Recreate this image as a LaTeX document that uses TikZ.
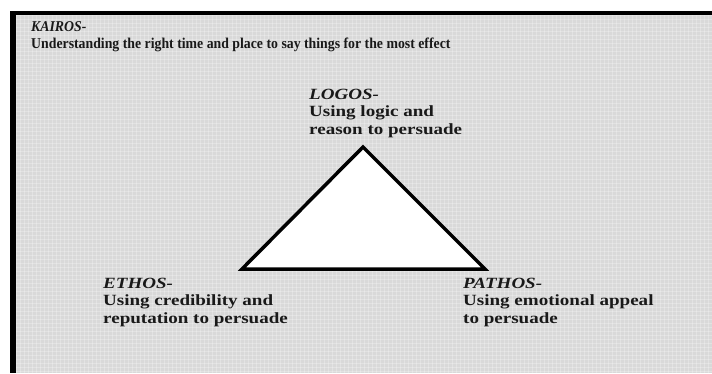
\documentclass[tikz,border=0pt]{standalone}
\usepackage{fontspec}
\usepackage{graphicx}
\setmainfont{Liberation Serif}
\newcommand{\stretchlines}[2]{\scalebox{#1}[1]{\begin{tabular}[b]{@{}l@{}}#2\end{tabular}}}
\begin{document}
\begin{tikzpicture}[x=1pt,y=-1pt,
  lbl/.style={anchor=base west,inner sep=0pt,text=black!90,
    font=\fontsize{15.6}{17.5}\selectfont\bfseries},
  tri/.style={draw=black,line width=3.5pt,fill=white,line join=miter}]
\useasboundingbox (0,0) rectangle (712,373);
\fill[white] (0,0) rectangle (712,373);
\fill[gray!30] (10,11) rectangle (712,373);
\begin{scope}
\clip (10,11) rectangle (712,373);
\foreach \i in {0,4,...,712} \draw[white,opacity=0.25,line width=0.8pt] (\i,11) -- (\i,373);
\foreach \j in {11,15,...,373} \draw[white,opacity=0.25,line width=0.8pt] (10,\j) -- (712,\j);
\end{scope}
\fill[black] (10,11) rectangle (712,15);
\fill[black] (10,11) rectangle (16,373);
\coordinate (apex) at (363,147);
\coordinate (bl) at (242,269);
\coordinate (br) at (485,269);
\draw[tri] (apex) -- (bl) -- (br) -- cycle;
\node[lbl,font=\fontsize{15}{17}\selectfont\bfseries] (kairos) at (31,48) {\stretchlines{0.92}{\textit{KAIROS-}\\Understanding the right time and place to say things for the most effect}};
\node[lbl] (logos) at (309,134) {\stretchlines{1.22}{\textit{LOGOS-}\\Using logic and\\reason to persuade}};
\node[lbl] (ethos) at (103,323) {\stretchlines{1.22}{\textit{ETHOS-}\\Using credibility and\\reputation to persuade}};
\node[lbl] (pathos) at (463,323) {\stretchlines{1.22}{\textit{PATHOS-}\\Using emotional appeal\\to persuade}};
\end{tikzpicture}
\end{document}
